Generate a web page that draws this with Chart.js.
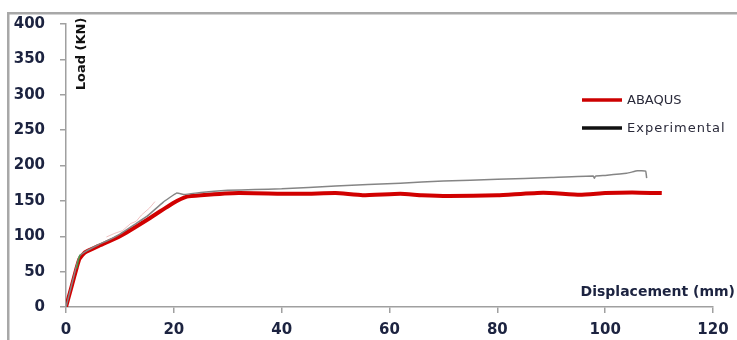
<!DOCTYPE html>
<html><head><meta charset="utf-8">
<script src="https://cdn.jsdelivr.net/npm/chart.js@4"></script>
<style>html,body{margin:0;padding:0;background:#fff}#w{width:737px;height:340px}</style>
</head><body><div id="w"><canvas id="c"></canvas></div>
<script>
const abaqusX = [0, 1, 2, 2.5, 3.5, 6, 10, 15, 19.9, 22.4, 25, 32, 40, 45, 50, 55, 62, 66, 71, 80, 88.5, 95.3, 100, 105, 110.5];
const abaqusY = [0, 28, 56, 68, 77, 86, 100, 123, 147, 156, 158, 161, 160, 160, 161, 158, 160, 158, 157, 158, 161.5, 158.5, 161, 162, 161];
const expX = [0, 1, 2, 2.5, 3.5, 6, 8, 10, 13, 15, 18, 20.5, 22, 25, 30, 35, 40, 50, 62, 70, 80, 90, 97.8, 98, 98.2, 100, 104, 106, 107.5, 107.7];
const expY = [0, 30, 60, 72, 78, 88, 95, 103, 118, 128, 148, 161, 159, 162, 165, 166, 167, 171, 175, 178, 180.5, 183, 185, 182, 185, 186, 189, 192.5, 192, 182];
const faintX = [7.5, 9, 10.5, 12, 13, 14, 15.5, 16.5];
const faintY = [99, 104, 108, 118, 121, 130, 140, 149];
const greenX = [2, 2.3, 2.6];
const greenY = [55, 66, 74];
const xTicks = [0, 20, 40, 60, 80, 100, 120];
const yTicks = [0, 50, 100, 150, 200, 250, 300, 350, 400];
const seriesNames = ['ABAQUS', 'Experimental'];

const pts = (xs, ys) => xs.map((x, i) => ({x, y: ys[i]}));
const tickFont = {family: 'DejaVu Sans', weight: 'bold', size: 15};
const tickColor = '#1c2340';

const overlay = {
  id: 'overlay',
  afterDraw(chart) {
    const ctx = chart.ctx;
    ctx.save();
    ctx.fillStyle = '#a8a8a8';
    ctx.fillRect(7, 12, 2.5, 340);
    ctx.fillRect(7, 12, 740, 2.5);
    ctx.fillStyle = '#111';
    ctx.font = 'bold 13px "DejaVu Sans"';
    ctx.translate(82, 54);
    ctx.rotate(-Math.PI / 2);
    ctx.textAlign = 'center'; ctx.textBaseline = 'middle';
    ctx.fillText('Load (KN)', 0, 0);
    ctx.restore();
    ctx.save();
    ctx.fillStyle = '#1c2340';
    ctx.font = 'bold 14px "DejaVu Sans"';
    ctx.textAlign = 'right'; ctx.textBaseline = 'middle';
    ctx.fillText('Displacement (mm)', 735, 292);
    ctx.lineWidth = 3.5;
    ctx.strokeStyle = '#cc0000';
    ctx.beginPath(); ctx.moveTo(582, 100); ctx.lineTo(622, 100); ctx.stroke();
    ctx.strokeStyle = '#111';
    ctx.beginPath(); ctx.moveTo(582, 128); ctx.lineTo(622, 128); ctx.stroke();
    ctx.fillStyle = '#2a2a3a';
    ctx.font = '13px "DejaVu Sans"';
    ctx.textAlign = 'left';
    ctx.fillText(seriesNames[0], 627, 101);
    ctx.letterSpacing = '1px';
    ctx.fillText(seriesNames[1], 627, 129);
    ctx.restore();
  }
};

new Chart(document.getElementById('c'), {
  type: 'scatter',
  data: {
    datasets: [
      {data: pts(faintX, faintY), showLine: true, borderColor: 'rgba(220,120,120,0.45)', borderWidth: 1, pointRadius: 0},
      {data: pts(greenX, greenY), showLine: true, borderColor: 'rgba(60,160,60,0.8)', borderWidth: 1.5, pointRadius: 0},
      {label: seriesNames[1], data: pts(expX, expY), showLine: true, borderColor: '#858585', borderWidth: 1.5, pointRadius: 0, tension: 0.1},
      {label: seriesNames[0], data: pts(abaqusX, abaqusY), showLine: true, borderColor: '#d10000', borderWidth: 4, pointRadius: 0, tension: 0.15}
    ]
  },
  options: {
    responsive: true, maintainAspectRatio: false, animation: false,
    layout: {padding: {top: 24, right: 24, left: 0, bottom: 0}},
    plugins: {legend: {display: false}, tooltip: {enabled: false}},
    scales: {
      x: {
        type: 'linear', min: 0, max: 120,
        afterBuildTicks: s => { s.ticks = xTicks.map(v => ({value: v})); },
        afterFit: s => { s.height = 33; },
        border: {color: '#a0a0a0', width: 1.5},
        grid: {drawOnChartArea: false, color: '#a0a0a0', tickLength: 6, lineWidth: 1.5},
        ticks: {font: tickFont, color: tickColor, padding: 8, maxRotation: 0}
      },
      y: {
        type: 'linear', min: 0, max: 400,
        afterBuildTicks: s => { s.ticks = yTicks.map(v => ({value: v})); },
        afterFit: s => { s.width = 66; },
        border: {color: '#a0a0a0', width: 1.5},
        grid: {drawOnChartArea: false, color: '#a0a0a0', tickLength: 6, lineWidth: 1.5},
        ticks: {font: tickFont, color: tickColor, padding: 15}
      }
    }
  },
  plugins: [overlay]
});
</script></body></html>
